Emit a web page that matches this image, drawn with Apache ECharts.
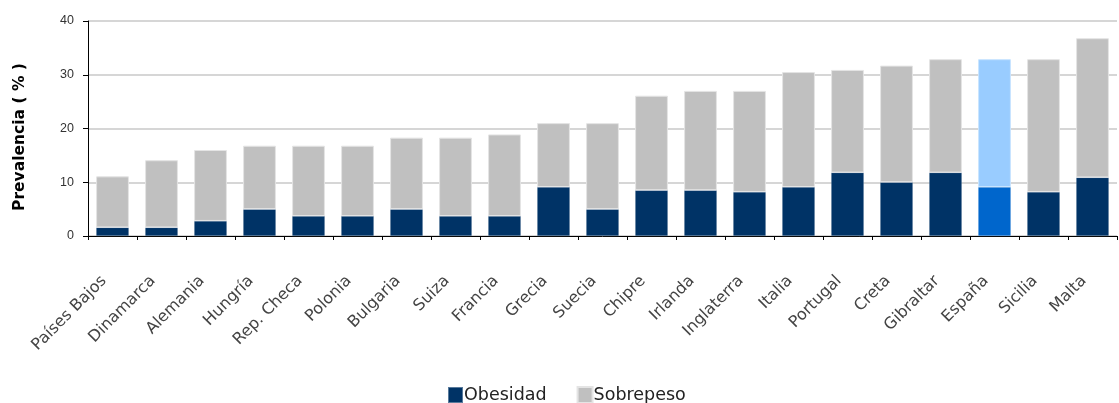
<!DOCTYPE html>
<html><head><meta charset="utf-8">
<script src="https://cdn.jsdelivr.net/npm/echarts@6/dist/echarts.min.js"></script>
<style>html,body{margin:0;padding:0;background:#fff}#c{width:1119px;height:403px}</style>
</head><body><div id="c"></div>
<script>
const categories = ["Países Bajos","Dinamarca","Alemania","Hungría","Rep. Checa","Polonia","Bulgaria","Suiza","Francia","Grecia","Suecia","Chipre","Irlanda","Inglaterra","Italia","Portugal","Creta","Gibraltar","España","Sicilia","Malta"];
const obesidad = [1.6,1.6,2.8,5.0,3.7,3.7,5.0,3.7,3.7,9.1,5.0,8.5,8.5,8.2,9.1,11.8,10.0,11.8,9.1,8.2,10.9];
const total = [11.1,14.1,16.0,16.8,16.8,16.8,18.3,18.3,18.9,21.0,21.0,26.1,27.0,27.0,30.5,30.9,31.7,32.9,32.9,32.9,36.8];
const yTicks = [0,10,20,30,40];
const highlight = "España";

const sobrepeso = total.map((t,i)=>+(t-obesidad[i]).toFixed(2));
const font = "DejaVu Sans";
const chart = echarts.init(document.getElementById('c'), null, {renderer:'canvas'});
chart.setOption({
  animation:false,
  textStyle:{fontFamily:font},
  grid:{left:88,right:2,top:21,bottom:167,containLabel:false},
  legend:{top:386,left:447,padding:0,itemWidth:15,itemHeight:16,itemGap:30,
    textStyle:{fontFamily:font,fontSize:17.5,color:'#222',padding:[0,0,0,-4]},
    data:[{name:'Obesidad',icon:'rect'},{name:'Sobrepeso',icon:'rect'}]},
  graphic:[{type:'text',x:20,y:137,rotation:Math.PI/2,
    style:{text:'Prevalencia ( % )',fontFamily:font,fontWeight:'bold',fontSize:15.5,fill:'#000',
      align:'center',verticalAlign:'middle'}}],
  xAxis:{type:'category',data:categories,
    axisLine:{lineStyle:{color:'#000',width:1}},
    axisTick:{show:true,alignWithLabel:false,length:4,lineStyle:{color:'#000'}},
    axisLabel:{rotate:45,interval:0,fontSize:16,color:'#444',margin:34,padding:[0,12,0,0],fontFamily:font}},
  yAxis:{type:'value',min:0,max:40,interval:10,
    axisLine:{show:true,lineStyle:{color:'#000'}},
    axisTick:{show:true,length:5,lineStyle:{color:'#000'}},
    axisLabel:{fontSize:12.5,color:'#333',margin:14,fontFamily:'Liberation Sans',
      formatter:v=>yTicks.includes(v)?String(v):''},
    splitLine:{lineStyle:{color:'#c8c8c8',width:1.5}}},
  series:[
    {name:'Obesidad',type:'bar',stack:'a',barCategoryGap:'33%',
     itemStyle:{color:'#003366',borderColor:'rgba(255,255,255,0.35)',borderWidth:0.5},
     data:obesidad.map((v,i)=>categories[i]===highlight?{value:v,itemStyle:{color:'#0066CC'}}:v)},
    {name:'Sobrepeso',type:'bar',stack:'a',barCategoryGap:'33%',
     itemStyle:{color:'#C0C0C0',borderColor:'#e4e4e4',borderWidth:1},
     data:sobrepeso.map((v,i)=>categories[i]===highlight?{value:v,itemStyle:{color:'#99CCFF',borderColor:'#c8e4ff'}}:v)}
  ]
});
</script></body></html>
